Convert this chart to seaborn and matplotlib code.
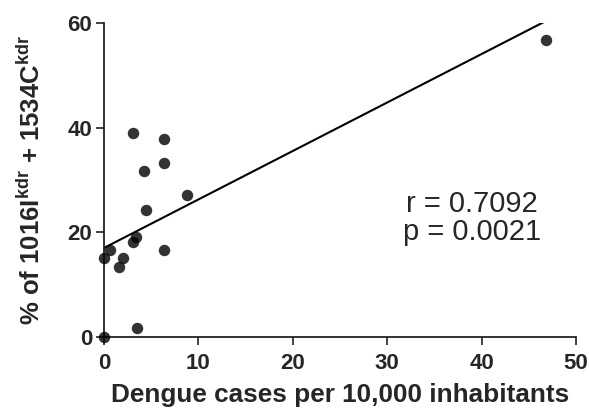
import numpy as np
import pandas as pd
import matplotlib
matplotlib.use("Agg")
import matplotlib.pyplot as plt
import seaborn as sns

# data
dengue = [0.0, 0.03, 0.64, 1.6, 2.0, 3.1, 3.1, 3.35, 3.45, 4.27, 4.5, 6.36, 6.36, 6.4, 8.8, 46.8]
kdr = [0.0, 15.1, 16.6, 13.3, 15.1, 39.0, 18.2, 19.1, 1.7, 31.8, 24.2, 37.8, 16.6, 33.2, 27.1, 56.8]
stats_text = ["r = 0.7092", "p = 0.0021"]
x_ticks = [0, 10, 20, 30, 40, 50]
y_ticks = [0, 20, 40, 60]

df = pd.DataFrame({"dengue": dengue, "kdr": kdr})

sns.set_style("ticks")
plt.rcParams["font.family"] = ["Liberation Sans", "DejaVu Sans"]
plt.rcParams["mathtext.fontset"] = "custom"
plt.rcParams["mathtext.rm"] = "Liberation Sans"
plt.rcParams["mathtext.bf"] = "Liberation Sans:bold"

fig = plt.figure(figsize=(5.89, 4.08), dpi=100)
ax = fig.add_axes([104 / 589, 71 / 408, 472 / 589, 314 / 408])

# scatter + least-squares line
sns.regplot(data=df, x="dengue", y="kdr", ci=None, ax=ax,
            scatter_kws=dict(s=68, color="black", clip_on=False, zorder=3, linewidths=0),
            line_kws=dict(color="black", lw=1.5))

ax.set_xlim(0, 50)
ax.set_ylim(0, 60)
ax.set_xticks(x_ticks)
ax.set_yticks(y_ticks)
for s in ["top", "right"]:
    ax.spines[s].set_visible(False)
for s in ["left", "bottom"]:
    ax.spines[s].set_linewidth(1.3)
    ax.spines[s].set_color("#222222")
ax.tick_params(axis="both", direction="out", length=5.5, width=1.2, color="#222222",
               labelsize=16)
ax.tick_params(axis="x", pad=6)
ax.tick_params(axis="y", pad=3)
for lab in ax.get_xticklabels() + ax.get_yticklabels():
    lab.set_fontweight("bold")

ax.set_xlabel("Dengue cases per 10,000 inhabitants", fontsize=18.8, fontweight="bold")
ax.set_ylabel(r"% of 1016I$^{\mathbf{kdr}}$ + 1534C$^{\mathbf{kdr}}$", fontsize=18.5,
              fontweight="bold")
ax.xaxis.set_label_coords(0.5, -0.145)
ax.yaxis.set_label_coords(-0.125, 0.5)

ax.text(39.0, 23.9, stats_text[0], fontsize=21, ha="center", va="baseline")
ax.text(39.0, 18.6, stats_text[1], fontsize=21, ha="center", va="baseline")

fig.savefig("out.png", dpi=100)
